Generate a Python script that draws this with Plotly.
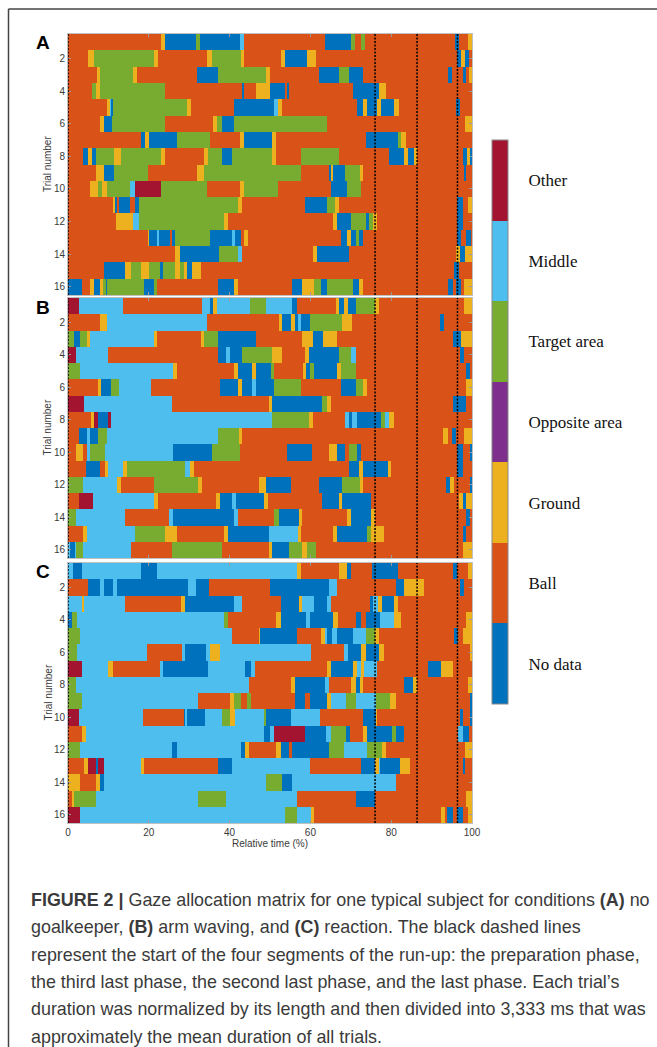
import plotly.graph_objects as go

# ---------------- data ----------------
CATEGORIES = ["No data", "Ball", "Ground", "Opposite area", "Target area", "Middle", "Other"]
CODES = {"N": 0, "B": 1, "G": 2, "O": 3, "T": 4, "M": 5, "X": 6}
COLORS = ["#0072BD", "#D95319", "#EDB120", "#7E2F8E", "#77AC30", "#4DBEEE", "#A2142F"]

# each trial: run-length segments "<code><end % of relative time>"
PANEL_A = [
    "B23.0 G24.0 N31.7 T32.6 N42.5 M43.5 B63.5 N70.1 T71.0 B72.4 T73.4 B95.8 N96.8 B98.9 G100",
    "B5.0 G6.5 T21.2 G22.2 B34.4 G35.6 T42.7 G43.5 B52.6 G53.6 N59.1 G61.5 B96.4 N97.3 G98.3 N99.3 B100",
    "B7.1 G7.9 T16.0 G17.0 B31.9 N37.1 T49.1 G50.0 B62.1 N67.1 T69.6 N73.1 B94.1 N95.1 B97.7 N98.5 B99.2 G100",
    "B6.0 T7.0 G7.9 T24.1 B43.1 N43.5 B46.6 G50.1 N53.6 B54.1 N54.6 B70.6 N77.0 G78.6 B100",
    "B9.6 G10.3 M10.7 N11.1 T29.4 G30.4 B41.0 N50.9 M51.9 G53.0 B71.6 N72.9 G74.1 N76.6 G77.4 N80.7 G82.0 B96.0 N97.1 B100",
    "B7.9 G8.9 N10.8 T24.1 B35.9 G36.9 T38.1 N41.0 T64.2 B98.3 G100",
    "B18.0 N19.1 G20.1 N27.0 T35.1 B42.5 G43.5 N50.5 G51.6 B73.7 N81.6 T82.5 G83.6 B100",
    "B3.6 N5.0 G6.0 N7.0 T11.5 G13.1 T23.0 G24.1 B33.6 G34.6 T38.1 N40.6 T50.5 G51.6 B57.6 T67.1 B79.5 N83.2 G84.2 N85.7 G86.5 B97.7 N98.8 G99.6 N100",
    "B6.9 G8.9 N11.5 T19.9 B31.9 G33.6 T57.6 B64.6 N65.2 G65.7 N68.5 T72.3 G72.9 B98.1 N98.6 B100",
    "B5.5 G7.5 T8.4 G9.6 T15.4 M16.6 X23.0 T34.4 B42.5 G43.5 T52.0 B65.0 N69.0 T72.6 B100",
    "B11.1 G11.7 N12.1 B12.5 N15.4 B16.6 N17.5 T42.0 G43.1 B58.6 N64.2 T66.0 G67.1 B96.4 N97.7 B98.9 G100",
    "B11.9 G16.0 M17.5 T38.5 G39.5 B65.7 G66.7 N70.0 T73.7 N74.5 T75.6 G76.4 B96.4 N97.7 B100",
    "B19.7 G20.1 N22.0 M22.4 N25.3 B25.7 N26.5 T35.1 N40.6 M41.4 N42.7 B43.5 G44.5 B67.5 N69.0 G70.1 N71.2 T72.0 N73.1 B96.4 N97.3 B98.5 N99.7 B100",
    "B26.5 G27.6 N37.3 T42.0 M43.1 B60.7 G61.7 N69.6 B96.0 G97.1 N98.3 G100",
    "B8.9 N14.1 G15.5 T18.0 G20.1 T22.7 N23.5 T26.5 G27.6 T28.6 G29.4 N30.7 G32.9 B95.6 N96.9 B100",
    "N3.4 B5.5 G6.5 N7.9 G8.7 T9.3 N9.6 T18.7 N21.2 T22.0 B37.1 N41.0 G42.0 B55.5 N58.0 G61.0 T62.5 N64.2 T70.6 N72.0 G73.1 B94.1 N95.2 B96.0 N97.3 B98.1 G100",
]
PANEL_B = [
    "X2.6 M13.6 B33.2 M35.1 N35.9 G36.9 M45.0 T49.1 M55.5 N56.6 B66.3 G67.1 N68.3 G69.3 N71.2 T75.9 G77.0 B98.1 G100",
    "B7.9 G9.6 M34.4 B52.2 G53.0 N55.1 G56.1 N56.9 M57.7 N60.0 T67.9 G70.4 B92.1 N93.0 B100",
    "T1.6 N3.0 T4.6 G5.5 M21.2 G22.0 B32.8 G33.6 T37.1 N46.6 B58.0 G60.7 N63.2 G66.5 B95.2 N97.3 G100",
    "X2.0 M10.0 B37.1 N39.2 M40.0 N43.1 T50.5 G53.0 B58.6 G59.6 N67.1 T70.0 M71.2 B97.1 N98.1 B100",
    "T3.0 M26.1 G27.1 B41.0 G42.0 N45.6 G46.6 N50.3 T51.1 B58.2 G59.0 N60.0 T61.0 N66.7 G67.5 T71.2 B98.5 N99.6 B100",
    "B7.5 G8.1 N10.6 T12.5 M20.5 B37.6 N42.0 G43.1 N45.6 M46.6 N51.1 T57.6 B67.5 N71.2 T72.9 G73.9 B98.5 G100",
    "X4.0 M25.7 B49.7 G50.5 N62.9 T64.0 G65.0 B95.2 N98.5 B100",
    "B5.6 G6.5 X7.5 N9.8 X10.6 M50.5 T59.6 G60.7 B68.5 M69.6 N70.4 M71.6 N77.4 T78.4 M79.5 G80.6 B100",
    "B2.6 N4.6 M5.5 N7.5 T9.6 M37.1 T42.3 G43.1 B92.9 G94.0 B95.0 N96.0 B98.1 G100",
    "B2.0 G3.6 B4.6 M5.5 T9.2 M26.1 N35.6 T42.5 B54.1 N60.5 B64.6 G66.7 N68.5 B69.6 T71.6 N72.5 B96.4 N97.7 B99.6 N100",
    "B4.5 N7.9 B9.2 G10.0 M13.6 G14.6 T29.0 M30.1 G31.1 B69.6 N72.1 G72.9 N79.1 G79.9 B96.4 N97.7 B100",
    "T3.6 M12.2 G13.1 B21.2 T32.1 G33.2 B47.2 G49.1 N55.1 B62.1 N67.9 T72.3 G72.9 B93.5 N94.6 G95.5 B99.6 N100",
    "B2.6 X6.1 M21.2 G22.2 B36.7 G37.7 N40.6 M41.7 N48.6 G49.5 B62.9 N67.1 G67.9 N74.9 B96.9 G97.7 N98.5 G100",
    "T2.0 M14.1 B25.1 M26.1 N41.0 M42.0 B51.1 T52.2 N57.2 G58.0 B69.0 G70.0 N74.9 G76.0 B98.5 N99.6 B100",
    "B3.6 G4.6 M16.6 T24.1 G27.1 B38.5 G39.5 N49.7 M56.9 G57.7 B65.7 G66.7 N73.9 T74.9 G78.1 B97.7 N98.5 B100",
    "M0.6 N1.7 M2.0 T3.6 M15.5 B25.7 T38.1 B49.7 G50.5 N54.7 T58.0 G59.1 T61.5 B97.7 G100",
]
PANEL_C = [
    "M1.3 N3.4 M18.0 N22.0 M56.6 G57.6 B67.1 G69.1 N70.1 B75.3 N81.7 B95.2 N96.4 B99.1 G100",
    "B5.0 N7.9 M8.9 N11.1 M12.1 N29.6 M31.8 N34.8 B50.1 N64.6 M66.7 B81.1 N83.2 G88.2 B97.1 N98.1 B100",
    "M3.4 G4.0 M14.1 B28.0 G29.0 N41.0 M43.1 B52.8 N57.2 G58.0 M61.0 N64.2 M65.2 B74.8 N75.6 M76.8 G77.6 N80.6 G81.7 B100",
    "N0.9 T2.3 M38.7 T39.5 B51.5 G52.6 N58.8 M59.9 N65.7 G66.8 B71.2 N72.6 B73.7 N77.3 M80.7 G82.5 B98.5 G100",
    "T3.0 M40.6 B47.2 G47.6 N56.6 B62.7 G63.5 M64.0 N65.4 M66.7 N70.6 M73.7 T75.9 G77.0 B95.6 N96.6 B97.7 G100",
    "T2.3 M19.5 B28.2 M29.0 N34.2 M35.1 G37.6 M60.2 B68.2 M69.3 N72.6 G73.7 N77.0 G78.1 B99.6 G100",
    "X3.4 M10.0 G11.1 B22.7 M23.5 N34.6 M43.7 N45.2 M46.2 B64.2 G65.2 N70.6 G71.6 M72.4 G73.3 M76.6 B89.2 N92.3 G95.2 B100",
    "T2.0 M44.7 B55.3 G56.1 N63.5 M64.6 B70.1 G71.2 N72.3 G73.1 B83.2 N85.5 G86.4 B98.9 G100",
    "T3.4 M32.1 B40.0 G41.2 T42.7 B44.2 T45.2 B56.1 N58.6 B59.9 N64.0 G65.2 M68.7 T71.2 M76.2 T79.7 G81.1 B99.6 N100",
    "X2.6 M18.5 B28.6 N29.0 M29.4 N34.0 M38.1 T40.0 G41.4 M48.6 T49.1 N55.3 M62.4 B73.1 N76.2 G76.6 B97.1 N97.7 B99.6 N100",
    "B3.4 G4.5 M48.6 N50.1 M51.1 X58.6 N63.8 M65.2 T68.7 N69.8 B72.9 G74.1 N80.1 T81.1 N83.2 B96.6 M97.7 N99.3 B100",
    "T3.0 M25.7 N27.0 M42.8 N43.7 G44.7 B51.6 G52.6 N54.7 B55.5 N64.6 T68.2 M74.1 T77.6 G78.7 B98.3 G100",
    "B4.0 G5.0 X6.9 N7.5 X8.9 M18.0 G18.7 B37.1 N40.6 M59.9 B72.6 N75.9 G77.0 M77.3 N82.2 G84.7 B97.7 N98.3 B100",
    "G3.0 B6.9 G7.9 N8.9 M49.1 T53.0 N55.5 M81.1 B100",
    "B0.9 G1.5 T6.9 M32.1 T39.0 M56.6 B71.2 N75.9 B98.6 G100",
    "X3.0 M53.6 T56.6 M60.2 G61.0 B92.3 G93.3 B93.8 N95.2 B96.4 N97.7 B98.9 G100",
]
PANEL_LABELS = ["A", "B", "C"]
TRIALS = list(range(1, 17))
TRIAL_TICKS = [2, 4, 6, 8, 10, 12, 14, 16]
TIME_TICKS = [0, 20, 40, 60, 80, 100]
PHASE_STARTS = [0, 76.0, 86.4, 96.4]   # start of preparation / third last / second last / last phase

CAPTION = [
    "<b>FIGURE 2 |</b> Gaze allocation matrix for one typical subject for conditions <b>(A)</b> no",
    "goalkeeper, <b>(B)</b> arm waving, and <b>(C)</b> reaction. The black dashed lines",
    "represent the start of the four segments of the run-up: the preparation phase,",
    "the third last phase, the second last phase, and the last phase. Each trial\u2019s",
    "duration was normalized by its length and then divided into 3,333 ms that was",
    "approximately the mean duration of all trials.",
]

# ---------------- helpers ----------------
W, H = 657, 1047


def px_x(p):
    return p / W


def px_y(p):
    return 1 - p / H


def parse(trial):
    return [(CODES[t[0]], float(t[1:])) for t in trial.split()]


def build(panel):
    rows = [parse(t) for t in panel]
    edges = sorted(set([0.0] + [e for r in rows for _, e in r]))
    z = []
    for r in rows:
        line = []
        for a, b in zip(edges[:-1], edges[1:]):
            m = (a + b) / 2
            cat = next(c for c, e in r if e > m)
            line.append(cat)
        z.append(line)
    return edges, z


n = len(CATEGORIES)
colorscale = []
for k, c in enumerate(COLORS):
    colorscale.append([k / n, c])
    colorscale.append([(k + 1) / n, c])

# panel geometry (pixels)
PLOT_L, PLOT_R = 68, 472
PANEL_TB = [(34, 295), (298, 558), (563, 823)]
LETTER_Y = [43, 307, 571]

fig = go.Figure()
TICKFONT = dict(family="Liberation Sans, Arial, sans-serif", size=10, color="#3a3a3a")

for i, panel in enumerate([PANEL_A, PANEL_B, PANEL_C]):
    edges, z = build(panel)
    sfx = "" if i == 0 else str(i + 1)
    hm = go.Heatmap(
        z=z, x=edges, y=TRIALS,
        xaxis="x" + sfx, yaxis="y" + sfx,
        colorscale=colorscale, zmin=-0.5, zmax=n - 0.5,
        showscale=(i == 0),
        hoverinfo="skip",
    )
    if i == 0:
        hm.colorbar = dict(
            tickvals=list(range(n)), ticktext=CATEGORIES,
            x=px_x(492), xanchor="left", xpad=0,
            y=px_y(140), yanchor="top", ypad=0,
            len=564, lenmode="pixels", thickness=16,
            outlinewidth=1, outlinecolor="#888",
            ticks="outside", ticklen=17, tickcolor="rgba(0,0,0,0)",
            tickfont=dict(family="Liberation Serif, Times New Roman, serif", size=17, color="#111"),
        )
    fig.add_trace(hm)
    top, bot = PANEL_TB[i]
    last = i == 2
    fig.layout["xaxis" + sfx] = dict(
        domain=[px_x(PLOT_L), px_x(PLOT_R)], range=[0, 100], anchor="y" + sfx,
        tickvals=TIME_TICKS, showticklabels=last, ticks="inside", ticklen=3,
        tickcolor="#999", showline=True, linecolor="#c0c0c0", linewidth=1, mirror="ticks",
        showgrid=False, zeroline=False, tickfont=TICKFONT,
        title=dict(text="Relative time (%)", font=TICKFONT, standoff=1) if last else None,
    )
    fig.layout["yaxis" + sfx] = dict(
        domain=[px_y(bot), px_y(top)], range=[16.5, 0.5], anchor="x" + sfx,
        tickvals=TRIAL_TICKS, ticks="inside", ticklen=3, tickcolor="#999",
        showline=True, linecolor="#c0c0c0", linewidth=1, mirror="ticks",
        showgrid=False, zeroline=False, tickfont=TICKFONT,
    )
    # y-axis title placed precisely
    fig.add_annotation(text="Trial number", textangle=-90, x=px_x(47.5), y=px_y((top + bot) / 2),
                       xref="paper", yref="paper", xanchor="center", yanchor="middle",
                       showarrow=False, font=TICKFONT)
    for v in PHASE_STARTS:
        fig.add_shape(type="line", x0=v, x1=v, y0=0, y1=1,
                      xref="x" + sfx, yref="y" + sfx + " domain",
                      line=dict(color="black", width=1.5, dash="2px,1.5px"))
    fig.add_annotation(text="<b>%s</b>" % PANEL_LABELS[i], x=px_x(43), y=px_y(LETTER_Y[i]),
                       xref="paper", yref="paper", xanchor="center", yanchor="middle",
                       showarrow=False,
                       font=dict(family="Liberation Sans, Arial, sans-serif", size=19, color="black"))

# caption
for k, line in enumerate(CAPTION):
    fig.add_annotation(text=line, x=px_x(29), y=px_y(900 + 27.3 * k), xref="paper", yref="paper",
                       xanchor="left", yanchor="middle", showarrow=False,
                       font=dict(family="Liberation Sans, Arial, sans-serif", size=17.9, color="#3a3a3a"))

# outer frame (top and left border)
fig.add_shape(type="line", xref="paper", yref="paper", x0=px_x(8.5), x1=1, y0=px_y(9), y1=px_y(9),
              line=dict(color="#444", width=1.5))
fig.add_shape(type="line", xref="paper", yref="paper", x0=px_x(8.5), x1=px_x(8.5), y0=px_y(9), y1=0,
              line=dict(color="#444", width=1.5))

fig.update_layout(
    width=W, height=H, margin=dict(l=0, r=0, t=0, b=0, autoexpand=False),
    paper_bgcolor="white", plot_bgcolor="white", showlegend=False,
)
fig.write_html("out.html", config={"displayModeBar": False},
               post_script="document.body.style.margin='0';")
